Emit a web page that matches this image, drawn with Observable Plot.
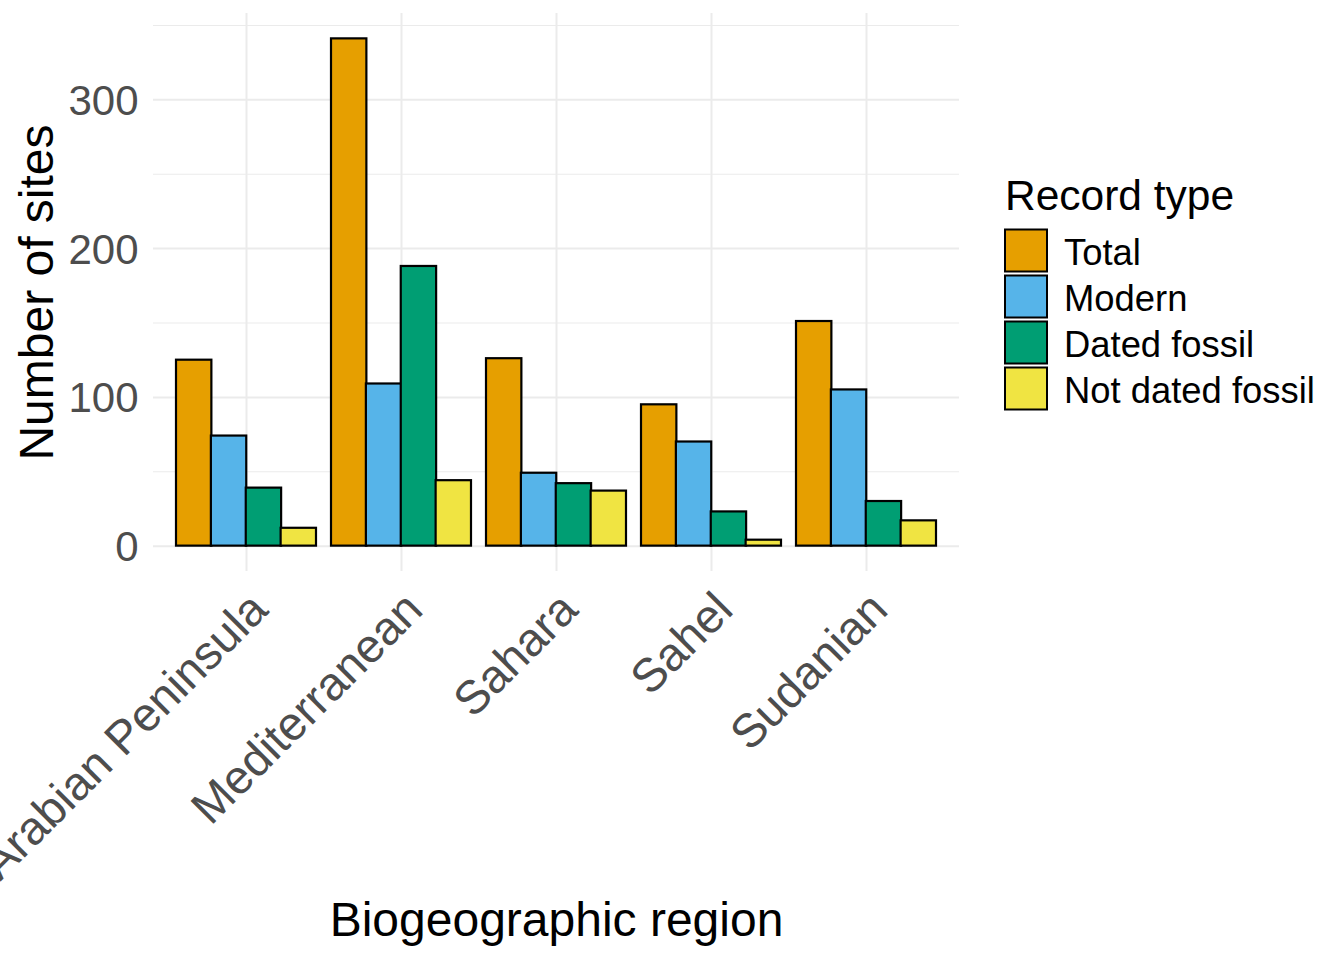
<!DOCTYPE html>
<html>
<head>
<meta charset="utf-8">
<script src="https://cdn.jsdelivr.net/npm/d3@7"></script>
<script src="https://cdn.jsdelivr.net/npm/@observablehq/plot@0.6"></script>
<style>
  html, body { margin: 0; padding: 0; background: #fff; }
  #wrap { position: relative; width: 1344px; height: 960px; font-family: "Liberation Sans", Arial, sans-serif; }
  #chart { position: absolute; left: 0; top: 0; }
  #legend { position: absolute; left: 980px; top: 0; }
</style>
</head>
<body>
<div id="wrap"><div id="chart"></div><div id="legend"></div></div>
<script>
// ---- data ----
const regions = ["Arabian Peninsula", "Mediterranean", "Sahara", "Sahel", "Sudanian"];
const types = ["Total", "Modern", "Dated fossil", "Not dated fossil"];
const total = [125, 341, 126, 95, 151];
const modern = [74, 109, 49, 70, 105];
const dated = [39, 188, 42, 23, 30];
const notDated = [12, 44, 37, 4, 17];
const typeColors = ["#E69F00", "#56B4E9", "#009E73", "#F0E442"];
const yTicks = [0, 100, 200, 300];
const yMinor = [50, 150, 250, 350];

const series = [total, modern, dated, notDated];
const rows = [];
types.forEach((t, i) => regions.forEach((r, j) => rows.push({region: r, type: t, value: series[i][j]})));

// ---- layout ----
const W = 980, H = 960;
const mL = 153, mR = 21, mT = 13, mB = 389;
const padInner = 0.1, padOuter = 0.15;
const step = (W - mL - mR) / (regions.length - padInner + 2 * padOuter);
const bw = step * (1 - padInner);
const q = bw / types.length;
const font = "Liberation Sans, Arial, sans-serif";
const vmax = d3.max(rows, d => d.value);
const yDomain = [-0.05 * vmax, vmax * 1.05];

const barMarks = types.map((t, i) =>
  Plot.barY(rows.filter(d => d.type === t), {
    x: "region", y: "value", fill: "type",
    stroke: "black", strokeWidth: 2.2,
    insetLeft: i * q, insetRight: (types.length - 1 - i) * q
  })
);

const plot = Plot.plot({
  width: W, height: H,
  marginLeft: mL, marginRight: mR, marginTop: mT, marginBottom: mB,
  style: {fontFamily: font, background: "white", overflow: "visible"},
  x: {type: "band", domain: regions, paddingInner: padInner, paddingOuter: padOuter, axis: null},
  y: {domain: yDomain, axis: null},
  color: {domain: types, range: typeColors},
  marks: [
    Plot.ruleY(yMinor, {stroke: "#EBEBEB", strokeWidth: 1.2}),
    Plot.gridY(yTicks, {stroke: "#EBEBEB", strokeOpacity: 1, strokeWidth: 2}),
    Plot.gridX({stroke: "#EBEBEB", strokeOpacity: 1, strokeWidth: 2}),
    ...barMarks,
    Plot.axisY(yTicks, {tickSize: 0, tickPadding: 15, fontSize: 42, fill: "#4D4D4D", label: null, dy: 1.5}),
    Plot.text(regions, {x: d => d, frameAnchor: "bottom", dy: 17, rotate: -45,
      textAnchor: "end", lineAnchor: "top", fontSize: 47, fill: "#4D4D4D"}),
    Plot.text(["Biogeographic region"], {frameAnchor: "bottom", dy: 364, lineAnchor: "bottom",
      textAnchor: "middle", fontSize: 48, fill: "black"}),
    Plot.text(["Number of sites"], {frameAnchor: "left", dx: -101, rotate: -90, lineAnchor: "bottom",
      textAnchor: "middle", fontSize: 48, fill: "black"})
  ]
});
document.getElementById("chart").appendChild(plot);

// ---- legend ----
const color = plot.scale("color");
const off = 980;
const lg = d3.select("#legend").append("svg")
  .attr("width", 1344 - off).attr("height", H)
  .style("font-family", font);
lg.append("text").attr("x", 1005 - off).attr("y", 210)
  .attr("font-size", 42.5).attr("fill", "black").text("Record type");
types.forEach((t, i) => {
  lg.append("rect").attr("x", 1005 - off).attr("y", 229.5 + 46 * i)
    .attr("width", 42).attr("height", 42)
    .attr("fill", color.apply(t)).attr("stroke", "black").attr("stroke-width", 2);
  lg.append("text").attr("x", 1064 - off).attr("y", 265 + 46 * i)
    .attr("font-size", 36.4).attr("fill", "black").text(t);
});
</script>
</body>
</html>
